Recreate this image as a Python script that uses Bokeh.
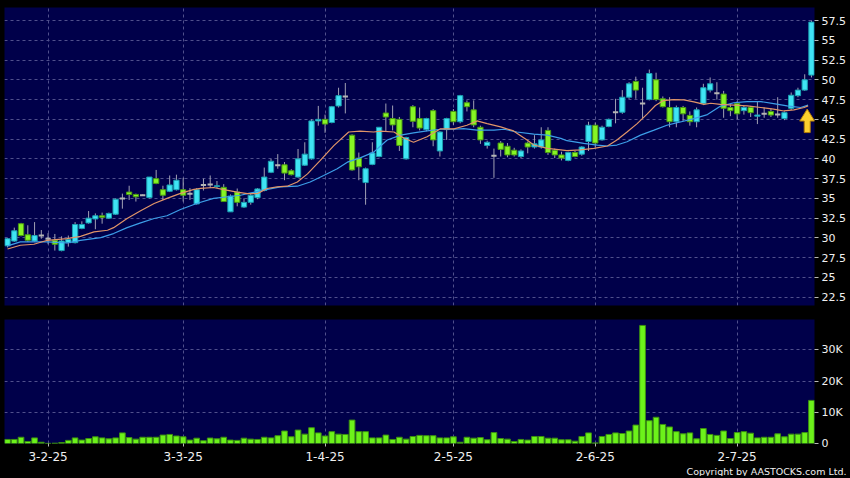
from bokeh.plotting import figure
from bokeh.layouts import column
from bokeh.models import (ColumnDataSource, FixedTicker, NumeralTickFormatter,
                          CustomJSTickFormatter, Range1d, Title,
                          Grid, GlobalInlineStyleSheet)
from bokeh.embed import file_html
from bokeh.resources import INLINE

# ---------------- data ----------------
open_ = [29.0, 29.6, 31.8, 30.4, 29.6, 30.3, 29.9, 29.7, 28.4, 29.4,
         29.4, 31.2, 31.9, 32.4, 32.8, 32.5, 33.0, 35.0, 35.8, 35.5,
         35.4, 35.1, 37.5, 36.1, 35.9, 36.1, 36.1, 35.6, 34.3, 36.7,
         36.75, 36.5, 36.4, 33.3, 35.8, 33.9, 34.5, 35.1, 36.0, 38.3,
         39.2, 39.25, 38.5, 37.7, 39.2, 40.0, 44.8, 45.0, 44.6, 46.7,
         47.9, 43.0, 40.1, 37.0, 39.3, 40.3, 45.8, 45.1, 45.0, 40.0,
         46.6, 45.1, 43.7, 46.1, 41.0, 43.7, 46.0, 44.7, 47.1, 46.2,
         44.0, 41.7, 40.4, 42.0, 41.6, 41.1, 40.3, 42.0, 41.5, 41.5,
         43.6, 41.1, 40.5, 39.8, 40.8, 40.6, 42.2, 44.25, 42.4, 44.1,
         45.9, 45.9, 47.8, 49.8, 47.0, 47.5, 50.0, 47.6, 46.5, 44.7,
         46.5, 45.5, 44.7, 47.0, 48.7, 48.3, 48.2, 46.5, 47.0, 46.1,
         46.5, 45.4, 45.7, 46.0, 45.6, 45.1, 46.4, 48.0, 48.7, 50.6]
high = [30.0, 31.3, 31.9, 31.6, 32.0, 31.0, 30.6, 30.5, 30.2, 30.3,
        32.0, 32.1, 33.4, 33.1, 33.2, 33.2, 35.0, 35.6, 36.6, 35.6,
        35.5, 37.7, 38.6, 36.6, 37.9, 38.0, 37.6, 36.3, 36.3, 37.5,
        37.9, 37.2, 36.8, 35.5, 36.25, 35.0, 35.6, 36.3, 38.9, 40.0,
        40.6, 39.6, 38.7, 41.25, 42.1, 45.0, 46.7, 45.6, 46.7, 49.0,
        49.6, 43.1, 40.8, 38.9, 42.1, 44.0, 47.0, 46.75, 45.3, 42.8,
        46.8, 46.5, 45.2, 46.3, 43.5, 45.2, 46.3, 48.1, 47.4, 47.4,
        44.2, 42.3, 41.3, 42.25, 42.0, 41.4, 41.2, 42.2, 43.0, 44.0,
        44.0, 41.3, 40.9, 40.9, 41.0, 41.6, 44.7, 44.6, 44.2, 45.1,
        47.6, 48.7, 49.7, 50.4, 49.0, 51.3, 50.9, 47.9, 47.8, 46.75,
        46.7, 46.0, 46.5, 49.5, 50.3, 49.7, 48.6, 46.9, 47.3, 46.7,
        46.7, 47.3, 46.5, 46.4, 47.8, 46.0, 48.4, 49.0, 50.7, 57.5]
low = [28.8, 29.5, 30.2, 29.5, 29.5, 29.9, 29.2, 28.4, 28.3, 28.9,
       29.3, 31.1, 31.8, 31.1, 31.8, 32.4, 32.9, 33.7, 34.8, 34.6,
       35.3, 35.0, 36.8, 34.8, 35.8, 36.0, 34.6, 34.8, 34.2, 36.0,
       36.3, 36.3, 34.6, 33.3, 34.0, 33.8, 34.2, 34.9, 35.9, 38.2,
       38.75, 37.3, 37.9, 37.6, 39.1, 39.9, 44.2, 43.3, 44.5, 46.5,
       45.75, 38.5, 37.3, 34.2, 39.2, 40.2, 43.4, 43.6, 41.0, 39.9,
       44.0, 43.6, 43.5, 41.6, 40.3, 42.4, 44.3, 44.5, 46.0, 44.0,
       41.9, 41.3, 37.6, 40.3, 40.2, 40.3, 40.1, 40.7, 41.3, 41.3,
       40.5, 40.1, 39.8, 39.7, 40.2, 40.4, 41.0, 41.5, 42.3, 44.0,
       44.5, 45.7, 47.6, 47.6, 45.1, 47.4, 47.3, 46.5, 44.0, 44.0,
       44.8, 44.2, 44.0, 46.8, 48.4, 47.5, 45.2, 45.4, 45.0, 45.6,
       45.3, 44.4, 45.2, 45.3, 45.2, 44.9, 46.2, 47.8, 48.6, 50.3]
close = [29.9, 30.9, 30.3, 29.7, 30.3, 30.3, 29.9, 29.2, 29.6, 29.8,
         31.7, 31.7, 32.5, 32.8, 32.6, 33.1, 34.9, 35.0, 35.5, 35.2,
         35.4, 37.7, 36.9, 35.4, 36.7, 37.3, 35.4, 35.6, 36.1, 36.7,
         36.75, 36.6, 34.6, 35.3, 34.5, 34.5, 35.4, 36.2, 37.7, 39.7,
         39.2, 38.2, 38.0, 40.0, 40.6, 44.8, 45.0, 44.4, 46.6, 48.0,
         47.9, 38.6, 39.0, 38.75, 40.75, 44.0, 45.3, 44.3, 41.7, 42.7,
         44.75, 43.9, 45.1, 42.4, 43.4, 45.1, 44.7, 48.0, 46.6, 44.3,
         42.4, 42.1, 40.4, 41.2, 40.5, 40.5, 41.0, 41.5, 41.9, 42.4,
         40.8, 40.5, 40.1, 40.8, 40.3, 41.5, 44.25, 42.0, 44.0, 45.0,
         45.9, 47.8, 49.5, 48.7, 47.0, 50.8, 47.5, 46.6, 44.7, 46.5,
         45.7, 44.7, 46.2, 49.0, 49.5, 48.3, 46.4, 46.1, 45.7, 46.5,
         45.85, 45.55, 45.7, 45.55, 45.6, 45.85, 48.05, 48.7, 50.0, 57.3]
volume_k = [1.3, 1.3, 2.0, 0.65, 1.8, 0.4, 0.05, 0.1, 0.3, 1.0,
            1.8, 1.1, 1.6, 2.15, 1.8, 1.5, 1.8, 3.4, 1.9, 1.4,
            2.0, 2.0, 2.0, 2.7, 2.9, 2.4, 2.15, 1.1, 1.7, 0.9,
            1.75, 1.5, 2.0, 1.1, 1.0, 1.7, 1.4, 1.3, 2.0, 1.8,
            2.5, 4.0, 2.15, 4.3, 3.0, 5.05, 3.4, 2.4, 3.8, 3.0,
            2.9, 7.5, 3.8, 3.8, 1.8, 1.8, 2.7, 1.3, 2.0, 1.4,
            2.25, 2.6, 2.5, 2.5, 1.8, 1.8, 2.15, 0.4, 2.0, 1.7,
            1.9, 1.2, 3.5, 1.6, 1.4, 0.65, 1.3, 1.1, 2.25, 2.25,
            1.7, 1.7, 1.2, 1.2, 0.75, 2.25, 3.4, 0.2, 2.25, 2.9,
            3.4, 3.2, 4.0, 5.9, 37.8, 7.3, 8.4, 6.1, 5.3, 3.8,
            3.1, 3.4, 1.5, 4.8, 2.9, 2.6, 4.0, 1.6, 3.5, 3.8,
            3.3, 1.8, 2.0, 2.0, 3.1, 2.15, 3.0, 3.0, 3.5, 13.8]

# moving averages (position in trading days, value)
ma_fast_x = [0, 1.9, 3.9, 5.9, 8.8, 10.8, 12.8, 14.8, 15.7, 17.7, 19.7, 21.7, 23.6,
             25.6, 27.6, 28.6, 30.5, 32.0, 34.0, 35.5, 37.0, 38.4, 39.9, 41.4, 42.9,
             44.4, 46.3, 48.3, 50.5, 52.2, 54.2, 55.2, 57.2, 58.7, 60.1, 62.1, 64.1,
             66.1, 68.0, 69.5, 71.0, 73.0, 74.9, 76.9, 77.9, 79.9, 81.9, 82.8, 84.8,
             86.8, 88.8, 90.2, 91.7, 93.2, 94.7, 95.9, 97.1, 98.6, 100.1, 101.6, 103.1,
             104.1, 105.5, 107.5, 109.5, 111.5, 113.4, 114.9, 116.4, 117.9, 118.5]
ma_fast_y = [28.6, 29.07, 29.2, 29.7, 29.9, 30.2, 30.76, 30.97, 31.3, 32.46, 33.43, 34.36, 35.0,
             35.64, 36.14, 36.27, 36.38, 36.1, 35.8, 35.6, 35.6, 36.25, 36.46, 36.54, 37.08,
             38.1, 39.8, 41.67, 43.4, 43.5, 43.4, 43.5, 43.4, 42.6, 42.1, 42.8, 43.8,
             43.8, 44.25, 44.8, 44.46, 44.04, 43.54, 42.38, 41.75, 41.33, 41.13, 41.04, 41.13,
             41.33, 41.63, 42.38, 43.4, 44.46, 45.7, 46.75, 47.38, 47.5, 47.46, 47.2, 46.9,
             47.04, 46.9, 46.8, 46.7, 46.5, 46.3, 46.06, 46.2, 46.5, 46.7]
ma_slow_x = [0, 1.9, 5.9, 8.8, 10.8, 13.8, 15.7, 17.7, 19.7, 21.7, 23.6, 25.6, 28.1,
             30.5, 34.5, 35.5, 37.9, 40.4, 42.9, 44.8, 46.8, 48.8, 50.3, 52.2, 54.2,
             56.2, 58.2, 60.1, 62.1, 64.1, 66.1, 67.5, 69.5, 72.0, 73.5, 75.4, 77.9,
             79.9, 81.9, 82.8, 85.3, 87.3, 88.8, 90.2, 91.7, 93.7, 95.7, 97.6, 99.6,
             101.6, 103.6, 105.5, 107.5, 109.5, 111.5, 113.4, 115.4, 117.4, 118.5]
ma_slow_y = [29.0, 29.5, 29.5, 29.36, 29.7, 30.04, 30.55, 31.3, 31.9, 32.46, 32.8, 33.6, 34.38,
             35.0, 35.4, 35.6, 36.04, 36.46, 36.54, 37.08, 37.9, 38.75, 39.58, 40.13, 40.85,
             42.38, 43.0, 43.3, 43.54, 43.75, 43.75, 43.83, 43.63, 43.63, 43.75, 43.4, 43.13,
             43.0, 42.6, 42.3, 41.96, 41.75, 41.63, 41.75, 42.17, 43.0, 43.63, 44.25, 44.67,
             45.1, 45.6, 46.65, 47.1, 47.25, 47.25, 47.0, 46.7, 46.5, 46.8]

date_tick_idx = [6, 26, 47, 66, 87, 108]
date_tick_labels = ["3-2-25", "3-3-25", "1-4-25", "2-5-25", "2-6-25", "2-7-25"]
price_ticks = [22.5, 25, 27.5, 30, 32.5, 35, 37.5, 40, 42.5, 45, 47.5, 50, 52.5, 55, 57.5]
vol_ticks = [0, 10, 20, 30]
signal_idx = 118
copyright_text = "Copyright by AASTOCKS.com Ltd."

# ---------------- styles ----------------
BG = "#00004a"
GRID = "#50508c"
TXT = "#f0f0f0"
TICK = "#b8b8b8"
UP_FILL, UP_EDGE = "#3fe4f4", "#1a9fb0"
DN_FILL, DN_EDGE = "#86f524", "#4a9a12"
DOJI = "#b4b4b4"
WICK = "#a0a0b4"
VOL_FILL, VOL_EDGE = "#6cf21a", "#3c9010"
MA_FAST, MA_SLOW = "#e09468", "#3c9ee8"
ARROW_FILL, ARROW_EDGE = "#fcd02e", "#b07c08"
FONT = "DejaVu Sans"

FRAME_W, FRAME_H = 810, 298
X0, X1 = -0.45, len(close) - 0.55
Y0, Y1 = 21.45, 59.15

n = len(close)
xs = list(range(n))
xr = Range1d(X0, X1)

def frame_common(p):
    p.background_fill_color = BG
    p.border_fill_color = "black"
    p.outline_line_color = None
    p.yaxis.axis_line_color = None
    p.yaxis.major_tick_line_color = TICK
    p.yaxis.major_tick_out = 4
    p.yaxis.major_tick_in = 0
    p.yaxis.minor_tick_line_color = None
    p.yaxis.major_label_text_color = TXT
    p.yaxis.major_label_text_font = FONT
    p.yaxis.major_label_text_font_size = "11px"
    p.yaxis.major_label_standoff = 3
    p.ygrid.grid_line_color = GRID
    p.ygrid.grid_line_dash = "3 3"
    p.xgrid.visible = False
    p.add_layout(Grid(dimension=0, ticker=FixedTicker(ticks=date_tick_idx),
                      grid_line_color=GRID, grid_line_dash="3 3"))

# ---------------- price panel ----------------
p1 = figure(frame_width=FRAME_W, frame_height=FRAME_H, x_range=xr, y_range=Range1d(Y0, Y1),
            y_axis_location="right", x_axis_location=None,
            output_backend="svg", toolbar_location=None,
            min_border_left=4, min_border_top=7, min_border_bottom=7, min_border_right=36)
frame_common(p1)
p1.yaxis.ticker = FixedTicker(ticks=price_ticks)
p1.yaxis.formatter = NumeralTickFormatter(format="0.[0]")

src_all = ColumnDataSource(dict(x=xs, high=high, low=low))
p1.segment(x0="x", y0="low", x1="x", y1="high", source=src_all, line_color=WICK, line_width=1)

def subset(cond):
    ii = [i for i in xs if cond(i)]
    return ColumnDataSource(dict(x=ii,
                                 top=[max(open_[i], close[i]) for i in ii],
                                 bottom=[min(open_[i], close[i]) for i in ii],
                                 c=[close[i] for i in ii]))

src_up = subset(lambda i: close[i] > open_[i])
src_dn = subset(lambda i: close[i] < open_[i])
src_eq = subset(lambda i: close[i] == open_[i])
p1.vbar(x="x", width=0.78, top="top", bottom="bottom", source=src_up,
        fill_color=UP_FILL, line_color=UP_EDGE, line_width=1)
p1.vbar(x="x", width=0.78, top="top", bottom="bottom", source=src_dn,
        fill_color=DN_FILL, line_color=DN_EDGE, line_width=1)
p1.rect(x="x", y="c", width=0.78, height=2, height_units="screen", source=src_eq,
        fill_color=DOJI, line_color=None)

p1.line(ma_slow_x, ma_slow_y, line_color=MA_SLOW, line_width=1.2)
p1.line(ma_fast_x, ma_fast_y, line_color=MA_FAST, line_width=1.2)

# signal arrow under the last-but-one candle (shape given in pixels, converted to data units)
px_x = FRAME_W / (X1 - X0)
px_y = FRAME_H / (Y1 - Y0)
tip_x = signal_idx + 2.5 / px_x
tip_y = low[signal_idx] - 2.3
shape_px = [(0, 0), (7.5, 12), (3, 12), (3, 23.5), (-3, 23.5), (-3, 12), (-7.5, 12)]
p1.patch([tip_x + dx / px_x for dx, dy in shape_px],
         [tip_y - dy / px_y for dx, dy in shape_px],
         fill_color=ARROW_FILL, line_color=ARROW_EDGE, line_width=1)

# ---------------- volume panel ----------------
p2 = figure(frame_width=FRAME_W, frame_height=124, x_range=xr, y_range=Range1d(0, 39.7),
            y_axis_location="right", output_backend="svg", toolbar_location=None,
            min_border_left=4, min_border_top=7, min_border_bottom=0, min_border_right=36)
frame_common(p2)
p2.yaxis.ticker = FixedTicker(ticks=vol_ticks)
p2.yaxis.formatter = CustomJSTickFormatter(code="return tick == 0 ? '0' : tick + 'K';")
p2.ygrid.ticker = FixedTicker(ticks=vol_ticks[1:])
p2.xaxis.ticker = FixedTicker(ticks=date_tick_idx)
p2.xaxis.major_label_overrides = dict(zip(date_tick_idx, date_tick_labels))
p2.xaxis.axis_line_color = None
p2.xaxis.major_tick_line_color = TICK
p2.xaxis.major_tick_out = 3
p2.xaxis.major_tick_in = 0
p2.xaxis.minor_tick_line_color = None
p2.xaxis.major_label_text_color = TXT
p2.xaxis.major_label_text_font = FONT
p2.xaxis.major_label_text_font_size = "12px"
p2.xaxis.major_label_standoff = 5

p2.vbar(x=xs, top=volume_k, bottom=0, width=0.84, fill_color=VOL_FILL,
        line_color=VOL_EDGE, line_width=1)

p2.add_layout(Title(text=copyright_text, align="right", offset=-32,
                    text_color=TXT, text_font=FONT, text_font_size="9.5px",
                    text_font_style="normal", standoff=0), "below")

layout = column(p1, p2, spacing=0,
                stylesheets=[GlobalInlineStyleSheet(css="html, body { background-color: #000000; }")])

open("out.html", "w").write(file_html(layout, INLINE))
